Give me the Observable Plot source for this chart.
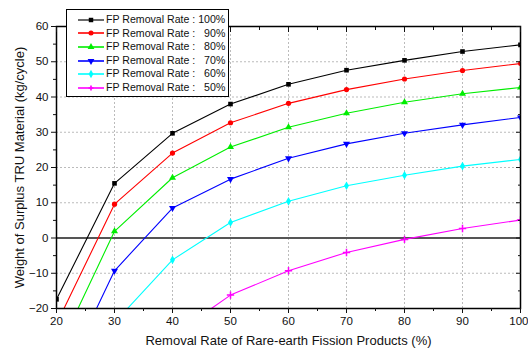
<!DOCTYPE html>
<html>
<head>
<meta charset="utf-8">
<script src="https://cdn.jsdelivr.net/npm/d3@7"></script>
<script src="https://cdn.jsdelivr.net/npm/@observablehq/plot@0.6"></script>
<style>
  html, body { margin: 0; padding: 0; background: #fff; }
  #wrap { position: relative; width: 528px; height: 351px; font-family: "Liberation Sans", Arial, sans-serif; }
  #legend { position: absolute; left: 66px; top: 9px; width: 163px; height: 88px; border: 1px solid #000; background: #fff; box-sizing: border-box; padding-top: 3px; }
  .row { display: flex; align-items: center; height: 13.6px; font-size: 10.6px; line-height: 13.6px; color: #111; white-space: nowrap; }
  .row svg { flex: none; margin-left: 11px; margin-right: 2px; }
  .lab { flex: none; white-space: pre; }
  .pct { flex: none; display: inline-block; width: 30px; text-align: right; white-space: pre; }
</style>
</head>
<body>
<div id="wrap"><div id="chart"></div><div id="legend"></div></div>
<script>
// ---- data ----
const removalRate = [20, 30, 40, 50, 60, 70, 80, 90, 100];
const fp100 = [-17.4, 15.5, 29.7, 38.0, 43.6, 47.6, 50.4, 52.9, 54.8];
const fp90  = [-24.4, 9.6, 24.1, 32.7, 38.2, 42.1, 45.1, 47.5, 49.5];
const fp80  = [-32.9, 1.9, 17.1, 25.8, 31.4, 35.4, 38.5, 40.9, 42.7];
const fp70  = [-43.8, -9.3, 8.5, 16.7, 22.6, 26.7, 29.7, 32.1, 34.2];
const fp60  = [null, -24.0, -6.2, 4.4, 10.4, 14.8, 17.8, 20.4, 22.3];
const fp50  = [null, null, -27.7, -16.2, -9.3, -4.1, -0.4, 2.7, 5.1];
const seriesNames = ["100%", "90%", "80%", "70%", "60%", "50%"];
const seriesValues = [fp100, fp90, fp80, fp70, fp60, fp50];
const seriesColors = ["#000000", "#ff0000", "#00ee00", "#0000ff", "#00ffff", "#ff00ff"];
const seriesSymbols = ["square", "circle", "triangle", "triangle", "diamond", "plus"];
const seriesRotate = [0, 0, 0, 180, 0, 0];
const xTicks = [20, 30, 40, 50, 60, 70, 80, 90, 100];
const xMinor = [25, 35, 45, 55, 65, 75, 85, 95];
const yTicks = [-20, -10, 0, 10, 20, 30, 40, 50, 60];
const yMinor = [-15, -5, 5, 15, 25, 35, 45, 55];

const rows = [];
seriesNames.forEach((s, i) => {
  removalRate.forEach((x, j) => {
    const v = seriesValues[i][j];
    if (v != null) rows.push({series: s, x, y: v, idx: i});
  });
});

const colorScale = {domain: seriesNames, range: seriesColors};

const dotMarks = seriesNames.map((s, i) =>
  Plot.dot(rows.filter(d => d.series === s), {
    x: "x", y: "y", fill: seriesColors[i], stroke: i === 5 ? seriesColors[i] : "none",
    symbol: () => seriesSymbols[i], r: i === 5 ? 2.5 : 2.6, rotate: seriesRotate[i], clip: true
  })
);

const chart = Plot.plot({
  width: 528, height: 351,
  marginLeft: 56, marginRight: 8, marginTop: 26, marginBottom: 43,
  style: {fontFamily: "Liberation Sans, Arial, sans-serif", fontSize: "11.5px", color: "#111", background: "#fff"},
  x: {domain: [20, 100]},
  y: {domain: [-20, 60]},
  color: colorScale,
  marks: [
    Plot.gridX(xTicks, {stroke: "#aaa", strokeOpacity: 0.8, strokeDasharray: "2,2"}),
    Plot.gridY(yTicks, {stroke: "#aaa", strokeOpacity: 0.8, strokeDasharray: "2,2"}),
    Plot.ruleY([0], {stroke: "#555", strokeWidth: 2}),
    Plot.line(rows, {x: "x", y: "y", z: "series", stroke: "series", strokeWidth: 1.1, clip: true}),
    ...dotMarks,
    Plot.frame({stroke: "#000", strokeWidth: 1.5}),
    Plot.axisX({ticks: xTicks, tickSize: 5, tickPadding: 3, label: "Removal Rate of Rare-earth Fission Products (%)", labelAnchor: "center", labelArrow: "none", labelOffset: 36, fontSize: 11.5}),
    Plot.axisX({ticks: xMinor, tickSize: 3, tickFormat: () => "", label: null}),
    Plot.axisX({anchor: "top", ticks: xTicks, tickSize: -5, tickFormat: () => "", label: null}),
    Plot.axisX({anchor: "top", ticks: xMinor, tickSize: -3, tickFormat: () => "", label: null}),
    Plot.axisY({ticks: yTicks, tickSize: 5, tickPadding: 3, label: "Weight of Surplus TRU Material (kg/cycle)", labelAnchor: "center", labelArrow: "none", labelOffset: 42, fontSize: 11.5}),
    Plot.axisY({ticks: yMinor, tickSize: 3, tickFormat: () => "", label: null}),
    Plot.axisY({anchor: "right", ticks: yTicks, tickSize: -5, tickFormat: () => "", label: null}),
    Plot.axisY({anchor: "right", ticks: yMinor, tickSize: -3, tickFormat: () => "", label: null})
  ]
});
chart.querySelectorAll('g[aria-label="x-axis label"] text, g[aria-label="y-axis label"] text').forEach(t => t.setAttribute("font-size", "13"));
// keep the last x tick label ("100") inside the picture
chart.querySelectorAll('text').forEach(t => {
  if (t.textContent === "100") { t.setAttribute("text-anchor", "end"); t.setAttribute("dx", "8"); }
});
document.getElementById("chart").appendChild(chart);

// ---- legend ----
const legend = document.getElementById("legend");
const ns = "http://www.w3.org/2000/svg";
seriesNames.forEach((s, i) => {
  const row = document.createElement("div");
  row.className = "row";
  const svg = document.createElementNS(ns, "svg");
  svg.setAttribute("width", 26); svg.setAttribute("height", 10);
  const ln = document.createElementNS(ns, "line");
  ln.setAttribute("x1", 0); ln.setAttribute("x2", 26); ln.setAttribute("y1", 5); ln.setAttribute("y2", 5);
  ln.setAttribute("stroke", i === 0 ? "#444" : seriesColors[i]); ln.setAttribute("stroke-width", 1.6);
  svg.appendChild(ln);
  const sym = d3.symbol().type({square: d3.symbolSquare, circle: d3.symbolCircle, triangle: d3.symbolTriangle, diamond: d3.symbolDiamond, plus: d3.symbolCross}[seriesSymbols[i]]).size(i === 5 ? 14 : 20);
  const p = document.createElementNS(ns, "path");
  p.setAttribute("d", sym());
  p.setAttribute("transform", `translate(13,5) rotate(${seriesRotate[i]})`);
  p.setAttribute("fill", seriesColors[i]);
  svg.appendChild(p);
  row.appendChild(svg);
  const lab = document.createElement("span");
  lab.className = "lab";
  lab.textContent = "FP Removal Rate :";
  row.appendChild(lab);
  const pct = document.createElement("span");
  pct.className = "pct";
  pct.textContent = s;
  row.appendChild(pct);
  legend.appendChild(row);
});
</script>
</body>
</html>
